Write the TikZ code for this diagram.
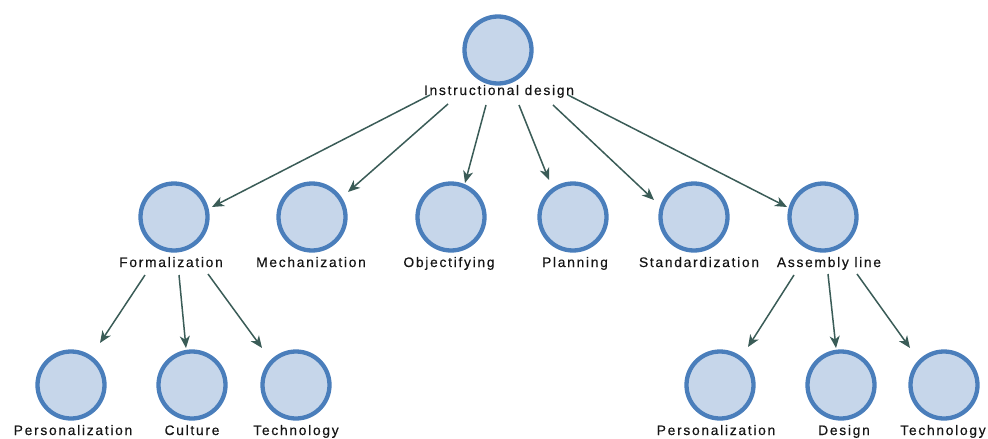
\documentclass[tikz,border=0pt]{standalone}
\usepackage{fontspec}
\setmainfont{Liberation Sans}
\usetikzlibrary{arrows.meta}
\definecolor{ringblue}{HTML}{4A7EBB}
\definecolor{fillblue}{HTML}{C6D6EA}
\definecolor{arrowcol}{HTML}{3A5C57}
\definecolor{txtcol}{HTML}{151515}
\tikzset{
  ball/.style={circle, draw=ringblue, fill=fillblue, line width=4.3pt, minimum size=67pt, inner sep=0pt},
  lbl/.style={anchor=base, inner sep=0pt, text=txtcol, font=\fontsize{13.8}{16}\selectfont\addfontfeature{LetterSpace=12.5,FakeBold=0.4}},
  link/.style={draw=arrowcol, line width=1.5pt, -{Stealth[length=12pt,width=10pt,inset=3.5pt]}}
}
\begin{document}
\begin{tikzpicture}[x=1pt,y=-1pt]
\useasboundingbox (0,0) rectangle (988,439);
% top
\node[ball] (c0) at (498,50) {};
\node[lbl] (l0) at (499,95) {Instructional design};
% level 2
\node[ball] (c1) at (174,217) {};
\node[lbl] (l1) at (171,267) {Formalization};
\node[ball] (c2) at (312,217) {};
\node[lbl] (l2) at (311,267) {Mechanization};
\node[ball] (c3) at (451,217) {};
\node[lbl] (l3) at (449,267) {Objectifying};
\node[ball] (c4) at (573,217) {};
\node[lbl] (l4) at (575,267) {Planning};
\node[ball] (c5) at (694,217) {};
\node[lbl] (l5) at (699,267) {Standardization};
\node[ball] (c6) at (823,217) {};
\node[lbl] (l6) at (829,267) {Assembly line};
% level 3 left
\node[ball] (c7) at (71,385) {};
\node[lbl] (l7) at (73,435) {Personalization};
\node[ball] (c8) at (192,385) {};
\node[lbl] (l8) at (192,435) {Culture};
\node[ball] (c9) at (296,385) {};
\node[lbl] (l9) at (296,435) {Technology};
% level 3 right
\node[ball] (c10) at (720,385) {};
\node[lbl] (l10) at (716,435) {Personalization};
\node[ball] (c11) at (841,385) {};
\node[lbl] (l11) at (844,435) {Design};
\node[ball] (c12) at (944,385) {};
\node[lbl] (l12) at (943,435) {Technology};
% connectors
\draw[link] ([shift={(-69,0)}]l0.base) -- ([shift={(38,-10)}]c1.center);
\draw[link] ([shift={(-51,9)}]l0.base) -- ([shift={(36,-25)}]c2.center);
\draw[link] ([shift={(-13,10)}]l0.base) -- ([shift={(14,-34)}]c3.center);
\draw[link] ([shift={(20,10)}]l0.base) -- ([shift={(-24,-37)}]c4.center);
\draw[link] ([shift={(54,10)}]l0.base) -- ([shift={(-40,-17)}]c5.center);
\draw[link] ([shift={(69,0)}]l0.base) -- ([shift={(-36,-10)}]c6.center);
\draw[link] ([shift={(-26,8)}]l1.base) -- ([shift={(29,-42)}]c7.center);
\draw[link] ([shift={(8,8)}]l1.base) -- ([shift={(-6,-37)}]c8.center);
\draw[link] ([shift={(37,7)}]l1.base) -- ([shift={(-34,-37)}]c9.center);
\draw[link] ([shift={(-35,8)}]l6.base) -- ([shift={(28,-38)}]c10.center);
\draw[link] ([shift={(-1,7)}]l6.base) -- ([shift={(-5,-37)}]c11.center);
\draw[link] ([shift={(28,7)}]l6.base) -- ([shift={(-34,-37)}]c12.center);
\end{tikzpicture}
\end{document}
